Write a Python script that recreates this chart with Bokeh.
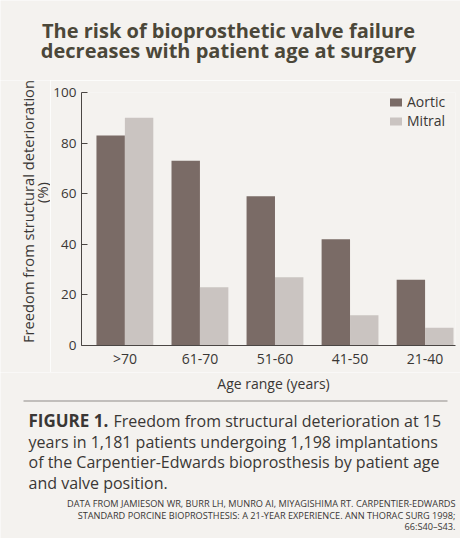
import numpy as np
from bokeh.plotting import figure
from bokeh.layouts import column, row
from bokeh.models import (ColumnDataSource, Range1d, FixedTicker, Legend, LegendItem)
from bokeh.core.properties import value
from bokeh.transform import dodge
from bokeh.embed import file_html
from bokeh.resources import INLINE

categories = [">70", "61-70", "51-60", "41-50", "21-40"]
aortic = [83, 73, 59, 42, 26]
mitral = [90, 23, 27, 12, 7]
y_ticks = [0, 20, 40, 60, 80, 100]

title_lines = ["The risk of bioprosthetic valve failure",
               "decreases with patient age at surgery"]
x_title = "Age range (years)"
y_title_lines = ["Freedom from structural deterioration", "(%)"]
caption_head = "FIGURE 1."
caption_lines = ["Freedom from structural deterioration at 15",
                 "years in 1,181 patients undergoing 1,198 implantations",
                 "of the Carpentier-Edwards bioprosthesis by patient age",
                 "and valve position."]
source_lines = ["DATA FROM JAMIESON WR, BURR LH, MUNRO AI, MIYAGISHIMA RT. CARPENTIER-EDWARDS",
                "STANDARD PORCINE BIOPROSTHESIS: A 21-YEAR EXPERIENCE. ANN THORAC SURG 1998;",
                "66:S40\u2013S43."]

FONT = "Open Sans"
BG = "#f4f2ef"
TXT = "#3a3735"
TCOL = "#4b4739"
AORTIC_C = "#7a6b66"
MITRAL_C = "#cac4c1"

W = 460
TOP_H, MID_H = 80, 292
BOT_H = 538 - TOP_H - MID_H
YL_W = 50                   # width of the y-title strip
FL, FR = 80, 455            # frame left/right (page px)
FT, FB = 92, 345            # frame top/bottom (page px)


def text_fig(w, h, xa, ya):
    f = figure(width=w, height=h, output_backend="svg", toolbar_location=None,
               x_range=Range1d(xa, xa + w), y_range=Range1d(ya + h, ya),
               x_axis_location=None, y_axis_location=None, min_border=0)
    f.background_fill_color = BG
    f.border_fill_color = BG
    f.outline_line_color = None
    f.xgrid.visible = False
    f.ygrid.visible = False
    f.frame_align = False
    return f


def txt(f, t, x, y, size, **kw):
    """y is the wanted baseline in page px"""
    fs = float(size.replace("px", ""))
    opts = dict(text_font=value(FONT), text_font_size=size, text_color=TXT,
                text_baseline="alphabetic", text_align="left")
    opts.update(kw)
    if opts["text_baseline"] == "alphabetic":
        y = y - 0.3 * fs
    f.text(x=[x], y=[y], text=[t], **opts)


# ---------- title ----------
top = text_fig(W, TOP_H, 0, 0)
for i, t in enumerate(title_lines):
    txt(top, t, 228, 36 + 20 * i, "20px", text_font_style="bold", text_color=TCOL,
        text_align="center")

# ---------- y title strip ----------
ylab = text_fig(YL_W, MID_H, 0, TOP_H)
txt(ylab, y_title_lines[0], 27, 211, "14.7px", angle=np.pi / 2, text_align="center",
    text_baseline="middle")
txt(ylab, y_title_lines[1], 41, 192, "14.7px", angle=np.pi / 2, text_align="center",
    text_baseline="middle")

# ---------- main chart ----------
src = ColumnDataSource(dict(x=list(range(len(categories))), cat=categories,
                            aortic=aortic, mitral=mitral))
cw = (424.5 - 123.5) / 4.0


def dx(px):
    return (px - 123.5) / cw


p = figure(width=W - YL_W, height=MID_H, output_backend="svg", toolbar_location=None,
           x_range=Range1d(dx(FL), dx(FR)), y_range=Range1d(0, 100),
           min_border_left=FL - YL_W, min_border_right=W - FR,
           min_border_top=FT - TOP_H, min_border_bottom=TOP_H + MID_H - FB)
p.frame_align = False
p.background_fill_color = BG
p.border_fill_color = BG
p.outline_line_color = None
p.xgrid.visible = False
p.ygrid.visible = False

bw = 28.5 / cw
ra = p.vbar(x=dodge("x", -bw / 2), top="aortic", width=bw, source=src,
            fill_color=AORTIC_C, line_color=None)
rm = p.vbar(x=dodge("x", bw / 2), top="mitral", width=bw, source=src,
            fill_color=MITRAL_C, line_color=None)

p.xaxis.ticker = FixedTicker(ticks=list(range(len(categories))))
p.xaxis.major_label_overrides = {i: c for i, c in enumerate(categories)}
p.xaxis.major_tick_in = 0
p.xaxis.major_tick_out = 0
p.xaxis.minor_tick_line_color = None
p.xaxis.major_label_standoff = 3
p.yaxis.ticker = FixedTicker(ticks=y_ticks)
p.yaxis.major_tick_in = 6
p.yaxis.major_tick_out = 0
p.yaxis.minor_tick_line_color = None
p.yaxis.major_label_standoff = 5
for ax in (p.xaxis, p.yaxis):
    ax.axis_line_color = "#4a4644"
    ax.major_tick_line_color = "#4a4644"
    ax.major_label_text_font = FONT
    ax.major_label_text_font_size = "14px"
    ax.major_label_text_color = TXT
p.yaxis.major_label_text_font_size = "13.5px"

legend = Legend(items=[LegendItem(label="Aortic", renderers=[ra]),
                       LegendItem(label="Mitral", renderers=[rm])],
                location=(387 - FL, FB - 130), orientation="vertical",
                background_fill_alpha=0, border_line_color=None,
                glyph_width=15, glyph_height=10, label_height=18, spacing=0,
                padding=0, margin=0, label_standoff=4,
                label_text_font=FONT, label_text_font_size="14px", label_text_color=TXT)
p.add_layout(legend, "center")

# ---------- bottom texts ----------
bot = text_fig(W, BOT_H, 0, TOP_H + MID_H)
txt(bot, x_title, 273, 387, "14px", text_align="center")
bot.segment(x0=[23], y0=[400.5], x1=[447], y1=[400.5], line_color="#8f8b88", line_width=1)
txt(bot, caption_head, 28, 425, "17px", text_font_style="bold")
txt(bot, caption_lines[0], 113, 425, "16px")
for i, t in enumerate(caption_lines[1:]):
    txt(bot, t, 28, 446 + 20.5 * i, "16px")
for i, t in enumerate(source_lines):
    txt(bot, t, 455, 506 + 11.5 * i, "9.2px", text_align="right")

layout = column(top, row(ylab, p, spacing=0), bot, spacing=0)
open("out.html", "w").write(file_html(layout, INLINE))
